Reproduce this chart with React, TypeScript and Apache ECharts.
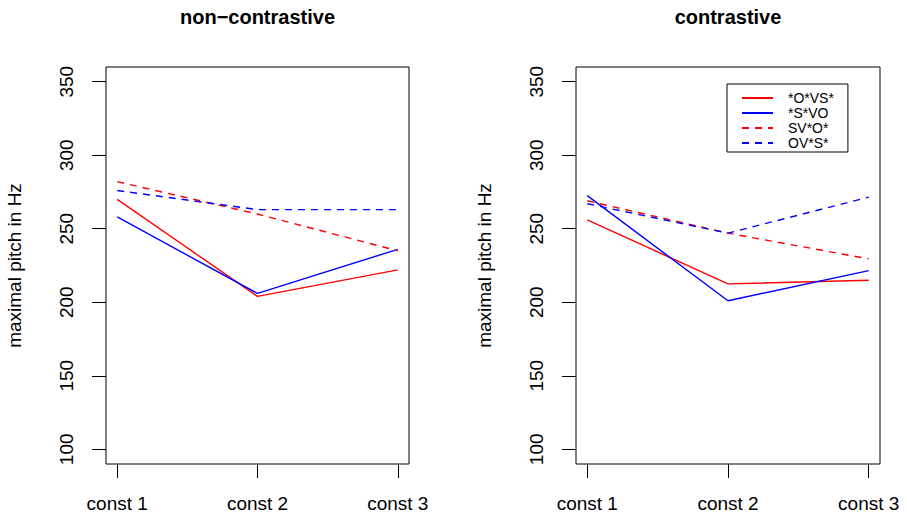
import React, { useEffect, useRef } from "react";
import * as echarts from "echarts";

const categories = ["const 1", "const 2", "const 3"];
const xPositions = [1, 2, 3];
const yTicks = [100, 150, 200, 250, 300, 350];
const seriesNames = ["*O*VS*", "*S*VO", "SV*O*", "OV*S*"];
const seriesColors = ["#FF0000", "#0000FF", "#FF0000", "#0000FF"];
const seriesDashed = [false, false, true, true];

// non-contrastive panel
const ncOVS = [270, 204, 222];
const ncSVO = [258, 206, 236];
const ncSVOs = [282, 260, 235];
const ncOVSs = [276, 263, 263];

// contrastive panel
const cOVS = [256, 212.5, 215];
const cSVO = [272.5, 201, 221.5];
const cSVOs = [269, 247, 229.5];
const cOVSs = [267, 247, 271.5];

const panelTitles = ["non\u2212contrastive", "contrastive"];
const panelData = [
  [ncOVS, ncSVO, ncSVOs, ncOVSs],
  [cOVS, cSVO, cSVOs, cOVSs],
];

const FONT = "'Liberation Sans', Arial, Helvetica, sans-serif";

export default function App() {
  const ref = useRef<HTMLDivElement>(null);
  useEffect(() => {
    if (!ref.current) return;
    const chart = echarts.init(ref.current, null, { renderer: "svg" });
    const grids = [
      { left: 106, right: 498, top: 67, bottom: 55 },
      { left: 576, right: 27, top: 67, bottom: 55 },
    ];
    const xAxes = grids.map((_, i) => ({
      type: "value",
      gridIndex: i,
      min: 0.92,
      max: 3.08,
      axisLine: { show: false },
      splitLine: { show: false },
      axisTick: {
        show: true,
        customValues: xPositions,
        length: 14,
        lineStyle: { color: "#000", width: 1 },
      },
      axisLabel: {
        customValues: xPositions,
        formatter: (v: number) => categories[Math.round(v) - 1] ?? "",
        fontSize: 19,
        fontFamily: FONT,
        color: "#000",
        margin: 30,
      },
    }));
    const yAxes = grids.map((_, i) => ({
      type: "value",
      gridIndex: i,
      min: 90,
      max: 360,
      axisLine: { show: false },
      splitLine: { show: false },
      axisTick: {
        show: true,
        customValues: yTicks,
        length: 14,
        lineStyle: { color: "#000", width: 1 },
      },
      axisLabel: {
        customValues: yTicks,
        rotate: 90,
        fontSize: 19,
        fontFamily: FONT,
        color: "#000",
        margin: 30,
      },
      name: "maximal pitch in Hz",
      nameLocation: "middle",
      nameRotate: 90,
      nameGap: 82,
      nameTextStyle: { fontSize: 19, fontFamily: FONT, color: "#000" },
    }));
    const series: any[] = [];
    panelData.forEach((panel, p) => {
      panel.forEach((vals, k) => {
        series.push({
          type: "line",
          name: seriesNames[k],
          xAxisIndex: p,
          yAxisIndex: p,
          data: vals.map((v, j) => [xPositions[j], v]),
          symbol: "none",
          color: seriesColors[k],
          lineStyle: {
            color: seriesColors[k],
            width: 1.4,
            type: seriesDashed[k] ? [7, 6] : "solid",
          },
        });
      });
    });
    const option: any = {
      animation: false,
      backgroundColor: "#fff",
      grid: grids.map((g) => ({
        ...g,
        show: true,
        borderColor: "#000",
        borderWidth: 1,
        backgroundColor: "transparent",
      })),
      xAxis: xAxes,
      yAxis: yAxes,
      series,
      legend: {
        data: seriesNames,
        orient: "vertical",
        left: 727,
        top: 84,
        padding: [7, 14, 2, 14],
        borderColor: "#000",
        borderWidth: 1,
        itemWidth: 31,
        itemHeight: 14,
        itemGap: 1,
        selectedMode: false,
        itemStyle: { opacity: 0 },
        textStyle: {
          fontSize: 14,
          fontFamily: FONT,
          color: "#000",
          lineHeight: 14,
          padding: [0, 0, 0, 10],
        },
      },
      graphic: panelTitles.map((t, i) => ({
        type: "text",
        x: i === 0 ? 257.5 : 728,
        y: 17,
        style: {
          text: t,
          fontSize: 20,
          fontWeight: "bold",
          fontFamily: FONT,
          fill: "#000",
          align: "center",
          verticalAlign: "middle",
        },
      })),
    };
    chart.setOption(option);
    return () => chart.dispose();
  }, []);
  return (
    <div
      ref={ref}
      style={{ width: 907, height: 519, position: "absolute", left: 0, top: 0 }}
    />
  );
}
